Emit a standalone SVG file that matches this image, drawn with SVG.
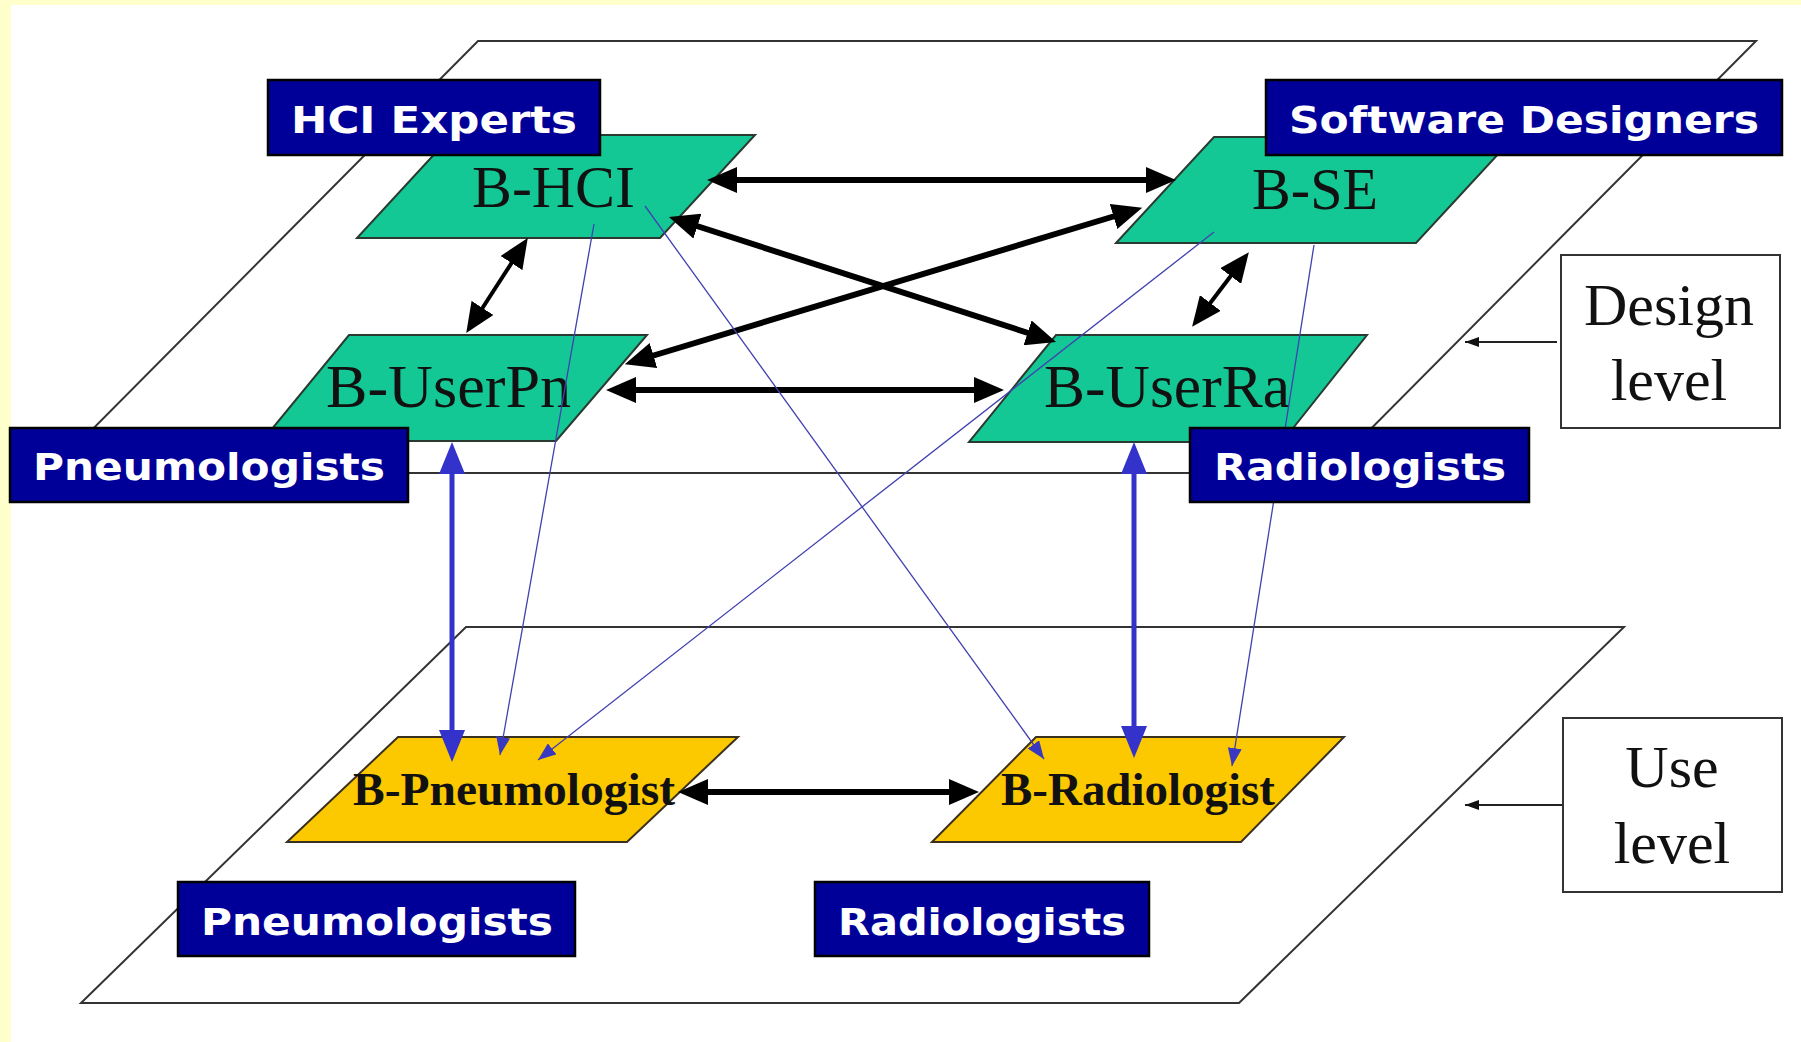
<svg xmlns="http://www.w3.org/2000/svg" width="1801" height="1042" viewBox="0 0 1801 1042">
<defs>
<style>
.plane{fill:none;stroke:#333;stroke-width:2}
.green{fill:#14C896;stroke:#2a3a30;stroke-width:2}
.yellow{fill:#FCC800;stroke:#3a3020;stroke-width:2}
.ntext{font-family:"Liberation Serif","Times New Roman",serif;fill:#111}
.lbl rect{fill:#000099;stroke:#000;stroke-width:2.5}
.lbl text{font-family:"DejaVu Sans","Verdana",sans-serif;font-weight:bold;font-size:38px;fill:#fff}
.lvl rect{fill:#fff;stroke:#333;stroke-width:2}
.lvl text{font-family:"Liberation Serif","Times New Roman",serif;font-size:60px;fill:#111;text-anchor:middle}
.blk{stroke:#000;stroke-width:6;fill:none;marker-start:url(#ab);marker-end:url(#ab)}
.blu{stroke:#3333CC;stroke-width:5;fill:none;marker-start:url(#au);marker-end:url(#au)}
.thin{stroke:#4040B0;stroke-width:1.3;fill:none;marker-end:url(#at)}
.lvarrow{stroke:#222;stroke-width:2;fill:none;marker-end:url(#as)}
</style>
<marker id="ab" markerUnits="userSpaceOnUse" viewBox="0 0 30 26" refX="12" refY="13" markerWidth="30" markerHeight="26" orient="auto-start-reverse"><path d="M0,0 L30,13 L0,26 z" fill="#000"/></marker>
<marker id="au" markerUnits="userSpaceOnUse" viewBox="0 0 32 26" refX="12" refY="13" markerWidth="32" markerHeight="26" orient="auto-start-reverse"><path d="M0,0 L32,13 L0,26 z" fill="#3333CC"/></marker>
<marker id="at" markerUnits="userSpaceOnUse" viewBox="0 0 18 14" refX="18" refY="7" markerWidth="18" markerHeight="14" orient="auto"><path d="M0,0 L18,7 L0,14 z" fill="#3838C0"/></marker>
<marker id="as" markerUnits="userSpaceOnUse" viewBox="0 0 14 10" refX="14" refY="5" markerWidth="14" markerHeight="10" orient="auto"><path d="M0,0 L14,5 L0,10 z" fill="#111"/></marker>
</defs>
<rect x="0" y="0" width="1801" height="1042" fill="#FFFFCC"/>
<rect x="11" y="5" width="1790" height="1037" fill="#fff"/>

<g id="planes">
<polygon class="plane" points="478,41 1756,41 1327,473 49,473"/>
<polygon class="plane" points="466,627 1624,627 1239,1003 81,1003"/>
</g>

<g id="node-bhci"><polygon class="green" points="452,135 755,135 660,238 357,238"/><text class="ntext" x="472" y="207" font-size="60" textLength="163" lengthAdjust="spacingAndGlyphs">B-HCI</text></g>
<g id="node-bse"><polygon class="green" points="1214,137 1514,137 1416,243 1116,243"/><text class="ntext" x="1252" y="209" font-size="59" textLength="126" lengthAdjust="spacingAndGlyphs">B-SE</text></g>
<g id="node-buserpn"><polygon class="green" points="349,335 647,335 556,441 262,441"/><text class="ntext" x="326" y="407" font-size="61" textLength="245" lengthAdjust="spacingAndGlyphs">B-UserPn</text></g>
<g id="node-buserra"><polygon class="green" points="1056,335 1367,335 1282,442 969,442"/><text class="ntext" x="1044" y="407" font-size="61" textLength="246" lengthAdjust="spacingAndGlyphs">B-UserRa</text></g>
<g id="node-bpneumologist"><polygon class="yellow" points="398,737 738,737 627,842 287,842"/><text class="ntext" x="353" y="805" font-size="46" font-weight="bold" textLength="322" lengthAdjust="spacingAndGlyphs">B-Pneumologist</text></g>
<g id="node-bradiologist"><polygon class="yellow" points="1036,737 1344,737 1241,842 932,842"/><text class="ntext" x="1001" y="805" font-size="46" font-weight="bold" textLength="274" lengthAdjust="spacingAndGlyphs">B-Radiologist</text></g>

<g id="connectors">
<line class="blk" x1="725" y1="180" x2="1158" y2="180"/>
<line class="blk" x1="624" y1="390" x2="986" y2="390"/>
<line class="blk" x1="686" y1="222.5" x2="1039" y2="336.5"/>
<line class="blk" x1="642" y1="359" x2="1125" y2="213"/>
<line class="blk" style="stroke-width:4" x1="518" y1="253" x2="476" y2="318"/>
<line class="blk" style="stroke-width:4" x1="1238" y1="266.5" x2="1203" y2="312.5"/>
<line class="blk" x1="696" y1="792" x2="961" y2="792"/>
<line class="blu" x1="452" y1="462" x2="452" y2="742"/>
<line class="blu" x1="1134" y1="462" x2="1134" y2="738"/>
<line class="thin" x1="594" y1="224" x2="500" y2="755"/>
<line class="thin" x1="645" y1="206" x2="1044" y2="759"/>
<line class="thin" x1="1214" y1="232" x2="538" y2="760"/>
<line class="thin" x1="1314" y1="245" x2="1232" y2="766"/>
<line class="lvarrow" x1="1557" y1="342" x2="1465" y2="342"/>
<line class="lvarrow" x1="1562" y1="805" x2="1465" y2="805"/>
</g>

<g id="label-hci" class="lbl"><rect x="268" y="80" width="332" height="75"/><text x="291" y="133" textLength="286" lengthAdjust="spacingAndGlyphs">HCI  Experts</text></g>
<g id="label-sd" class="lbl"><rect x="1266" y="80" width="516" height="75"/><text x="1289" y="133" textLength="470" lengthAdjust="spacingAndGlyphs">Software Designers</text></g>
<g id="label-pn-top" class="lbl"><rect x="10" y="428" width="398" height="74"/><text x="33" y="480" textLength="352" lengthAdjust="spacingAndGlyphs">Pneumologists</text></g>
<g id="label-ra-top" class="lbl"><rect x="1190" y="428" width="339" height="74"/><text x="1214" y="480" textLength="292" lengthAdjust="spacingAndGlyphs">Radiologists</text></g>
<g id="label-pn-bot" class="lbl"><rect x="178" y="882" width="397" height="74"/><text x="201" y="935" textLength="352" lengthAdjust="spacingAndGlyphs">Pneumologists</text></g>
<g id="label-ra-bot" class="lbl"><rect x="815" y="882" width="334" height="74"/><text x="838" y="935" textLength="288" lengthAdjust="spacingAndGlyphs">Radiologists</text></g>

<g id="design-level" class="lvl"><rect x="1561" y="255" width="219" height="173"/><text x="1669" y="325">Design</text><text x="1669" y="400">level</text></g>
<g id="use-level" class="lvl"><rect x="1563" y="718" width="219" height="174"/><text x="1672" y="787">Use</text><text x="1672" y="863">level</text></g>
</svg>
